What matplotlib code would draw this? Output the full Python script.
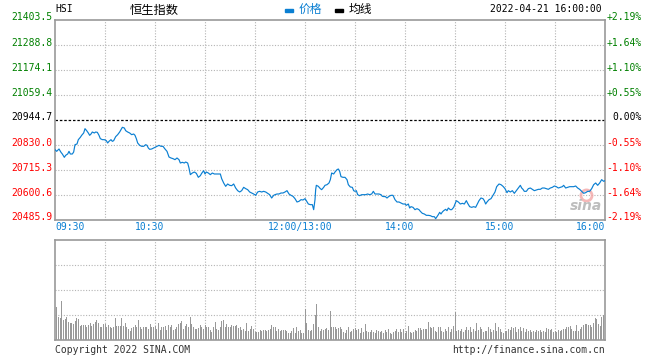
import matplotlib
matplotlib.use("Agg")
import matplotlib.pyplot as plt
import matplotlib.transforms as mtransforms
import numpy as np

# ---------------- data ----------------
prev_close = 20944.7
y_ticks = [21403.5, 21288.8, 21174.1, 21059.4, 20944.7, 20830.0, 20715.3, 20600.6, 20485.9]
pct_labels = ["+2.19%", "+1.64%", "+1.10%", "+0.55%", "0.00%", "-0.55%", "-1.10%", "-1.64%", "-2.19%"]
time_ticks = [0, 60, 150, 210, 270, 330]           # trading minutes since 09:30
time_labels = ["09:30", "10:30", "12:00/13:00", "14:00", "15:00", "16:00"]

# trading minutes since 09:30 (lunch break removed)
t_min = [
    0, 1, 2.4, 3.6, 4.4, 5.6, 6.4, 7.6, 8.4, 9.2, 10.4, 11.2, 12, 13.2, 14, 15.2, 16, 17.2, 18, 19,
    20, 20.8, 21.6, 22.4, 23.6, 24.4, 25.4, 26.4, 27.2, 28.4, 29.6, 30.8, 31.6, 32.4, 33.6, 34.4, 35.2, 36.4, 37.6, 38.8,
    39.6, 40.4, 41.6, 42.4, 43.6, 44.8, 46, 47.2, 48, 48.8, 49.6, 50.8, 52, 53.2, 54.4, 55.2, 56, 56.8, 58, 59.2,
    60, 61.2, 62.4, 63.6, 64.8,
    66, 67.2, 68.4, 69.6, 70.8, 72, 73.2, 74.4, 75.2, 76.4, 77.6, 78.4, 79.6, 80.4, 81.2, 82.4, 83.6, 84.8, 86, 87.2,
    88, 89.2, 90, 90.8, 92, 93.2, 94.4, 95.6, 96.8, 98, 99.2, 100, 101.2, 102.4, 103.6, 104.8, 106, 107.2, 108.4, 109.6,
    110.8, 112, 113.2, 114.4, 115.6, 116.8, 118, 119.2, 120.4, 121.6, 122.8, 124, 125.2, 126.4, 127.6, 128.8, 130, 131.2,
    132, 133.2, 134.4, 135.6, 136.8, 138, 139.2, 140.4, 141.6, 142.8, 144, 145.2, 146.4, 147.6, 148.8, 150, 150.8, 152, 153.2, 154.4,
    155.2, 156, 156.4, 156.8, 158, 159.2, 160, 161.2, 162, 163.2, 164.4, 165.2, 166, 167.2, 168, 169.2, 170, 170.8, 171.6, 172.8,
    174, 175.2, 176, 177.2, 178.4, 179.2, 180, 180.8, 181.6, 182.8, 184, 185.2, 186.4, 187.6, 188.8, 190, 191, 192, 193.2, 194.4,
    195.6, 196.4, 197.6,
    198, 199.2, 200.4, 201.6, 202.8, 204, 205.2, 206.4, 207.6, 208.8, 210, 210.8, 212, 212.8, 213.6, 214.8, 216, 217.2, 218.4, 219.2,
    220.4, 221.6, 222.8, 224, 225.2, 226.4, 227.6, 228.4, 229.2, 230, 230.8, 231.6, 232.4, 233.2, 234.4, 235.2, 236, 237.2, 238, 239.2,
    240, 240.8, 242, 243.2, 244.4, 245.6, 246.8, 247.6, 248.8, 250, 251.2, 252.4, 253.2, 254.4, 255.6, 256.8, 257.6, 258.4, 259.2, 260.4,
    261.6, 262.8, 264,
    265, 266.4, 267.6, 268.8, 270, 271.2, 272, 273.2, 274.4, 275.6, 276.8, 278, 279.2, 280, 280.8, 281.6, 282.8, 284, 285.2, 286.4,
    287.6, 288.8, 290, 291.2, 292.4, 293.6, 294.8, 296, 297.2, 298.4, 299.6, 300.8, 302, 303.2, 304.4, 305.2, 306.4, 307.6, 308.8, 310,
    311.2, 312.4, 313.6, 314.8, 316, 317.2, 318.4, 319.6, 320.8, 322, 323.2, 324.4, 325.6, 326.8, 328, 329.2, 330,
]
price = [
    20808.6, 20800.9, 20811.7, 20796.4, 20788.7, 20773.4, 20782.6, 20788.7, 20800.9, 20788.7,
    20788.7, 20797.9, 20831.5, 20834.6, 20854.5, 20865.2, 20874.4, 20885.1, 20904.9, 20895.8,
    20885.1, 20874.4, 20880.5, 20889.6, 20885.1, 20889.6, 20888.1, 20874.4, 20859.1, 20854.5,
    20854.5, 20849.9, 20839.2, 20846.8, 20854.5, 20846.8, 20849.9, 20868.2, 20877.4, 20889.6,
    20900.4, 20911.1, 20908.0, 20895.8, 20889.6, 20885.1, 20877.4, 20880.5, 20874.4, 20859.1,
    20839.2, 20828.5, 20823.9, 20823.9, 20831.5, 20828.5, 20816.2, 20810.1, 20811.7, 20816.2,
    20819.3, 20823.9, 20828.5, 20823.9, 20823.9,
    20811.7, 20800.9, 20774.9, 20770.4, 20767.3, 20762.7, 20770.4, 20762.7, 20747.4, 20750.5,
    20747.4, 20752.0, 20747.4, 20724.5, 20693.9, 20701.5, 20706.1, 20700.0, 20681.7, 20689.3,
    20700.0, 20712.2, 20697.0, 20706.1, 20701.5, 20693.9, 20701.5, 20697.0, 20697.0, 20697.0,
    20697.0, 20675.5, 20655.7, 20640.4, 20651.1, 20645.0, 20643.4, 20651.1, 20632.7, 20620.5,
    20614.4, 20620.5, 20635.8, 20629.7, 20625.1, 20614.4, 20609.8, 20605.2, 20599.1, 20614.4,
    20617.4, 20614.4, 20617.4, 20614.4, 20608.3, 20602.1, 20586.8, 20599.1,
    20602.1, 20605.2, 20605.2, 20609.8, 20609.8, 20614.4, 20620.5, 20605.2, 20599.1, 20594.5,
    20583.8, 20568.5, 20571.6, 20579.2, 20577.7, 20583.8, 20574.6, 20559.3, 20556.3, 20556.3,
    20533.3, 20579.2, 20625.1, 20645.0, 20640.4, 20629.7, 20625.1, 20635.8, 20645.0, 20648.0,
    20655.7, 20671.0, 20701.5, 20697.0, 20706.1, 20716.8, 20719.9, 20709.2, 20684.7, 20681.7,
    20681.7, 20671.0, 20648.0, 20637.3, 20635.8, 20620.5, 20617.4, 20620.5, 20602.1, 20597.5,
    20602.1, 20602.1, 20602.1, 20605.2, 20602.1, 20605.2, 20617.4, 20605.2, 20605.2, 20605.2,
    20602.1, 20594.5, 20593.0,
    20594.5, 20586.8, 20594.5, 20599.1, 20599.1, 20579.2, 20568.5, 20568.5, 20563.9, 20559.3,
    20559.3, 20553.2, 20559.3, 20541.0, 20547.1, 20544.0, 20533.3, 20537.9, 20533.3, 20525.7,
    20516.5, 20513.4, 20507.3, 20507.3, 20505.8, 20501.2, 20501.2, 20492.0, 20501.2, 20510.4,
    20521.1, 20513.4, 20522.6, 20528.7, 20534.9, 20528.7, 20541.0, 20533.3, 20533.3, 20544.0,
    20559.3, 20574.6, 20568.5, 20559.3, 20562.4, 20559.3, 20574.6, 20562.4, 20547.1, 20544.0,
    20547.1, 20544.0, 20556.3, 20574.6, 20586.8, 20583.8, 20574.6, 20559.3, 20568.5, 20579.2,
    20583.8, 20599.1, 20614.4,
    20638.8, 20651.1, 20648.0, 20640.4, 20629.7, 20611.3, 20620.5, 20614.4, 20620.5, 20608.3,
    20620.5, 20632.7, 20645.0, 20632.7, 20626.6, 20617.4, 20617.4, 20629.7, 20632.7, 20626.6,
    20620.5, 20623.5, 20626.6, 20626.6, 20632.7, 20632.7, 20629.7, 20626.6, 20632.7, 20635.8,
    20641.9, 20638.8, 20632.7, 20635.8, 20638.8, 20645.0, 20632.7, 20635.8, 20638.8, 20638.8,
    20638.8, 20641.9, 20632.7, 20626.6, 20617.4, 20608.3, 20611.3, 20617.4, 20617.4, 20629.7,
    20648.0, 20655.7, 20645.0, 20655.7, 20671.0, 20663.3, 20666.3,
]

# per-minute volume (relative units, panel top = 300)
volume = [
    100, 68, 65, 118, 60, 62, 68, 55, 50, 52, 48, 58, 65, 62, 42, 45, 45, 45, 40, 45, 50, 43, 48, 55, 60, 52, 40, 38, 48, 48,
    40, 45, 38, 35, 40, 67, 42, 42, 42, 67, 42, 50, 38, 32, 28, 35, 38, 45, 38, 60, 40, 32, 40, 40, 40, 32, 48, 40, 38, 42,
    32, 52, 30, 38, 40, 42, 30, 45, 38, 44, 30, 32, 38, 48, 50, 56, 34, 42, 48, 40, 68, 48, 38, 32, 32, 35, 45, 38, 32, 45,
    38, 38, 30, 25, 40, 55, 34, 30, 40, 58, 60, 40, 48, 38, 40, 45, 42, 42, 45, 36, 38, 30, 32, 28, 50, 28, 32, 42, 32, 25,
    25, 25, 30, 28, 30, 30, 28, 30, 32, 45, 38, 40, 28, 32, 28, 30, 30, 30, 26, 22, 20, 26, 35, 22, 40, 28, 30, 20, 22, 94,
    52, 30, 28, 30, 48, 75, 108, 40, 28, 32, 30, 32, 35, 30,
    87, 38, 40, 38, 32, 35, 38, 32, 25, 22, 30, 40, 25, 28, 32, 35, 30, 32, 20, 35, 25, 48, 28, 25, 25, 30, 25, 22, 30, 28,
    25, 28, 22, 30, 25, 34, 22, 18, 25, 28, 32, 25, 32, 25, 34, 22, 28, 42, 25, 20, 25, 30, 28, 35, 35, 30, 34, 32, 32, 54,
    40, 35, 38, 28, 25, 38, 40, 28, 25, 34, 28, 38, 24, 34, 42, 84, 28, 30, 28, 34, 25, 30, 38, 30, 38, 25, 32, 28, 50, 30,
    40, 32, 25, 28, 28, 38, 32, 25, 30, 52, 28, 38, 32, 25, 20, 28, 28, 32, 30, 38, 36, 38, 25, 34, 38, 28, 36, 24, 34, 28,
    30, 25, 28, 25, 30, 28, 30, 25, 28, 25, 35, 34, 30, 32, 25, 28, 25, 30, 28, 30, 32, 34, 38, 40, 42, 34, 26, 28, 45, 28,
    32, 38, 45, 48, 48, 45, 45, 40, 50, 65, 62, 48, 42, 68, 75, 85,
]

# ---------------- style ----------------
W, H = 660, 360
LINE_C = "#0a7fd2"
GREEN = "#008000"
RED = "#ff0000"
GRID_C = "#b4b4b4"
FRAME_C = "#999999"
MONO = "DejaVu Sans Mono"
CJK = ["Noto Sans CJK SC", "DejaVu Sans"]
FS = 7.0

fig = plt.figure(figsize=(W / 100, H / 100), dpi=100)
fig.patch.set_facecolor("white")


def px_axes(left, top, right, bottom):
    return fig.add_axes([left / W, 1 - bottom / H, (right - left) / W, (bottom - top) / H])


ax = px_axes(55, 20, 605, 220)
axv = px_axes(55, 240, 605, 340)

grid_x = np.arange(0, 331, 30)
for a in (ax, axv):
    for s in a.spines.values():
        s.set_color(FRAME_C)
        s.set_linewidth(1.2)
    a.set_xlim(0, 330)
    a.set_xticks([])
    a.set_yticks([])
    for gx in grid_x[1:-1]:
        a.axvline(gx, color=GRID_C, lw=0.8, ls=(0, (1, 1.5)), zorder=0)

# price panel
ax.set_ylim(y_ticks[-1], y_ticks[0])
for v in y_ticks[1:-1]:
    if v != prev_close:
        ax.axhline(v, color=GRID_C, lw=0.8, ls=(0, (1, 1.5)), zorder=0)
ax.axhline(prev_close, color="black", lw=0.9, ls=(0, (2, 1.5)), zorder=1)
ax.plot(t_min, price, color=LINE_C, lw=0.85, zorder=3)

up = mtransforms.ScaledTranslation(0, 2.5 / 100, fig.dpi_scale_trans)
tl = mtransforms.blended_transform_factory(ax.transAxes, ax.transData) + up
for v, p in zip(y_ticks, pct_labels):
    c = GREEN if v > prev_close else (RED if v < prev_close else "black")
    ax.text(-3 / 550, v, f"{v:.1f}", transform=tl, ha="right", va="center",
            fontsize=FS, family=MONO, color=c)
    ax.text(1 + 37 / 550, v, p, transform=tl, ha="right", va="center",
            fontsize=FS, family=MONO, color=c)

# time labels
tb = mtransforms.blended_transform_factory(ax.transData, ax.transAxes)
shift = mtransforms.ScaledTranslation(-5 / 100, 0, fig.dpi_scale_trans)
for i, (tm, lab) in enumerate(zip(time_ticks, time_labels)):
    if i == 0:
        ax.text(tm, -7 / 200, lab, transform=tb, ha="left", va="center",
                fontsize=FS, family=MONO, color=LINE_C)
    elif i == len(time_ticks) - 1:
        ax.text(tm, -7 / 200, lab, transform=tb, ha="right", va="center",
                fontsize=FS, family=MONO, color=LINE_C)
    else:
        ax.text(tm, -7 / 200, lab, transform=tb + shift, ha="center", va="center",
                fontsize=FS, family=MONO, color=LINE_C)

# sina watermark
ax.plot([0.965], [0.125], "o", transform=ax.transAxes, ms=8, mfc="none",
        mec="#f3a6a6", mew=2.0, alpha=0.8, zorder=2)
ax.text(0.966, 0.07, "sina", transform=ax.transAxes, ha="center", va="center",
        fontsize=10, fontweight="bold", style="italic", color="#bdbdbd", zorder=2)

# volume panel
n = len(volume)
vx = np.arange(1, n + 1) * (330.0 / n)
axv.set_ylim(0, 300)
for gy in (75, 150, 225):
    axv.axhline(gy, color=GRID_C, lw=0.8, ls=(0, (1, 1.5)), zorder=0)
axv.bar(vx, volume, width=0.6, color="#999999", zorder=2, linewidth=0)

# header
def ftext(x, y, s, **kw):
    fig.text(x / W, 1 - y / H, s, **kw)

ftext(55, 9, "HSI", ha="left", va="center", fontsize=FS, family=MONO, color="black")
ftext(154, 10, "恒生指数", ha="center", va="center", fontsize=8.8, family=CJK, color="black")
fig.patches.append(plt.Rectangle((285 / W, 1 - 12 / H), 8 / W, 3 / H, transform=fig.transFigure,
                                 color=LINE_C, figure=fig))
ftext(299, 9.5, "价格", ha="left", va="center", fontsize=8.5, family=CJK, color=LINE_C)
fig.patches.append(plt.Rectangle((335 / W, 1 - 12 / H), 8 / W, 3 / H, transform=fig.transFigure,
                                 color="black", figure=fig))
ftext(349, 9.5, "均线", ha="left", va="center", fontsize=8.5, family=CJK, color="black")
ftext(602, 9, "2022-04-21 16:00:00", ha="right", va="center", fontsize=FS, family=MONO, color="black")

# footer
ftext(55, 350, "Copyright 2022 SINA.COM", ha="left", va="center", fontsize=FS, family=MONO, color="#333333")
ftext(605, 350, "http://finance.sina.com.cn", ha="right", va="center", fontsize=FS, family=MONO, color="#333333")

fig.savefig("out.png", dpi=100, facecolor="white")
